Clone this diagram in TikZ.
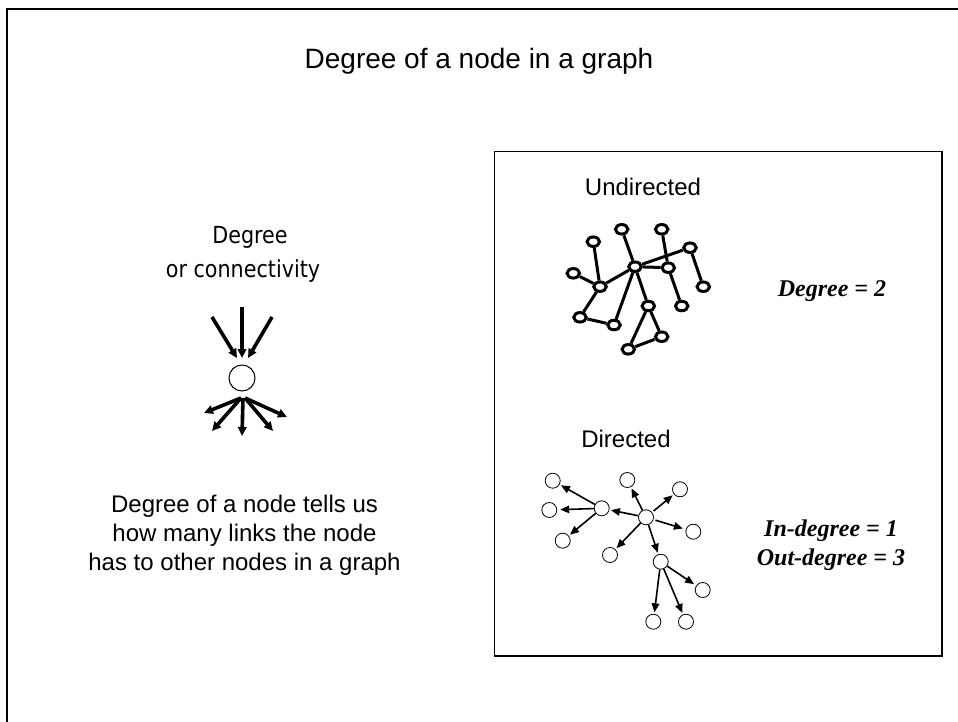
\documentclass[tikz,border=0pt]{standalone}
\usepackage{fontspec}
\setmainfont{Liberation Sans}
\newfontfamily\tahomalike{DejaVu Sans}
\newfontfamily\timesfont{Liberation Serif}
\usetikzlibrary{arrows.meta,shapes.geometric}
\begin{document}
\begin{tikzpicture}[x=1pt,y=-1pt,
  txt/.style={anchor=base,inner sep=0pt,font=\fontsize{24}{28}\selectfont},
  ttl/.style={anchor=base,inner sep=0pt,font=\fontsize{28}{32}\selectfont},
  tah/.style={anchor=base,inner sep=0pt,font=\tahomalike\fontsize{23.5}{27}\selectfont},
  tim/.style={anchor=base,inner sep=0pt,font=\timesfont\bfseries\itshape\fontsize{24}{28}\selectfont},
  bignode/.style={circle,draw,line width=1pt,minimum size=26pt,inner sep=0pt},
  bigarrow/.style={line width=3.6pt,-{Triangle[length=9pt,width=8.5pt]}},
  unode/.style={ellipse,draw,line width=3pt,fill=white,minimum width=12.5pt,minimum height=9.5pt,inner sep=0pt},
  uedge/.style={line width=3pt},
  dnode/.style={circle,draw,line width=0.8pt,fill=white,minimum size=15pt,inner sep=0pt},
  darrow/.style={line width=1.6pt,-{Triangle[length=9pt,width=7.5pt]},shorten >=1.5pt}
]
\useasboundingbox (0,0) rectangle (958,722);
\fill[white] (0,0) rectangle (958,722);
% outer frame (only left and top visible)
\draw[line width=2pt] (7,740) -- (7,9) -- (970,9);
% inner box
\draw[line width=1pt] (494,152) rectangle (942,656);
\draw[line width=1.5pt] (494,656) -- (942,656) -- (942,152);

% title
\node[ttl] (title) at (479,69) {Degree of a node in a graph};

% left part
\node[tah] (deg) at (250,243) {\scalebox{0.88}[1]{Degree}};
\node[tah] (conn) at (243,277) {\scalebox{0.88}[1]{or connectivity}};
\node[bignode] (c0) at (242,378) {};
\coordinate (i1) at (212,317);
\coordinate (i2) at (242,307);
\coordinate (i3) at (272,317);
\coordinate (o1) at (204,413);
\coordinate (o2) at (212,431);
\coordinate (o3) at (242,436);
\coordinate (o4) at (273,431);
\coordinate (o5) at (287,417);
\coordinate (s1) at (241,398);
\coordinate (s2) at (243,398);
\coordinate (s3) at (245,398);
\draw[bigarrow] (i1) -- (237,358);
\draw[bigarrow] (i2) -- (242,358);
\draw[bigarrow] (i3) -- (248,358);
\draw[bigarrow] (s1) -- (o1);
\draw[bigarrow] (s1) -- (o2);
\draw[bigarrow] (s2) -- (o3);
\draw[bigarrow] (s3) -- (o4);
\draw[bigarrow] (s3) -- (o5);

\node[txt] (b1) at (244.5,512.5) {Degree of a node tells us};
\node[txt] (b2) at (244.5,541.5) {how many links the node};
\node[txt] (b3) at (244.5,570) {has to other nodes in a graph};

% undirected
\node[txt] (ulab) at (643,196) {Undirected};
\node[unode] (uA) at (621.7,229.3) {};
\node[unode] (uB) at (661.7,229.3) {};
\node[unode] (uC) at (593.3,241.7) {};
\node[unode] (uD) at (690,247.7) {};
\node[unode] (uE) at (573.3,273.3) {};
\node[unode] (uF) at (635,266.7) {};
\node[unode] (uG) at (668.3,267.7) {};
\node[unode] (uH) at (600,286.7) {};
\node[unode] (uI) at (703.3,286.7) {};
\node[unode] (uJ) at (648.3,306) {};
\node[unode] (uK) at (681.7,306) {};
\node[unode] (uL) at (580,317.3) {};
\node[unode] (uM) at (614,325) {};
\node[unode] (uN) at (661.7,336.7) {};
\node[unode] (uO) at (628.3,349.3) {};
\draw[uedge] (uA) -- (uF);
\draw[uedge] (uB) -- (uG);
\draw[uedge] (uC) -- (uH);
\draw[uedge] (uE) -- (uH);
\draw[uedge] (uH) -- (uF);
\draw[uedge] (uF) -- (uD);
\draw[uedge] (uF) -- (uG);
\draw[uedge] (uD) -- (uI);
\draw[uedge] (uG) -- (uK);
\draw[uedge] (uF) -- (uM);
\draw[uedge] (uF) -- (uJ);
\draw[uedge] (uH) -- (uL);
\draw[uedge] (uL) -- (uM);
\draw[uedge] (uJ) -- (uN);
\draw[uedge] (uJ) -- (uO);
\draw[uedge] (uO) -- (uN);

\node[tim] (dg) at (832,296.5) {Degree = 2};

% directed
\node[txt] (dlab) at (626,447) {Directed};
\node[dnode] (da) at (552.7,480.7) {};
\node[dnode] (db) at (549.3,510) {};
\node[dnode] (dc) at (601.7,508.3) {};
\node[dnode] (dd) at (562.7,540.7) {};
\node[dnode] (de) at (627.3,480) {};
\node[dnode] (df) at (680,489.3) {};
\node[dnode] (dg0) at (646,517.3) {};
\node[dnode] (dh) at (693.3,531.7) {};
\node[dnode] (di) at (610,555) {};
\node[dnode] (dj) at (660.7,561.7) {};
\node[dnode] (dk) at (702.7,590) {};
\node[dnode] (dl) at (653.3,621.7) {};
\node[dnode] (dm) at (686,621.7) {};
\draw[darrow] (dc) -- (da);
\draw[darrow,shorten >=3pt] (dc) -- (db);
\draw[darrow] (dc) -- (dd);
\draw[darrow] (dg0) -- (dc);
\draw[darrow] (dg0) -- (de);
\draw[darrow,shorten <=2pt] (dg0) -- (df);
\draw[darrow,shorten >=3pt,shorten <=2pt] (dg0) -- (dh);
\draw[darrow] (dg0) -- (di);
\draw[darrow] (dg0) -- (dj);
\draw[darrow,shorten >=2.5pt] (dj) -- (dk);
\draw[darrow] (dj) -- (dl);
\draw[darrow] (dj) -- (dm);

\node[tim] (ind) at (831,536.5) {In-degree = 1};
\node[tim] (outd) at (831,565) {Out-degree = 3};
\end{tikzpicture}
\end{document}
